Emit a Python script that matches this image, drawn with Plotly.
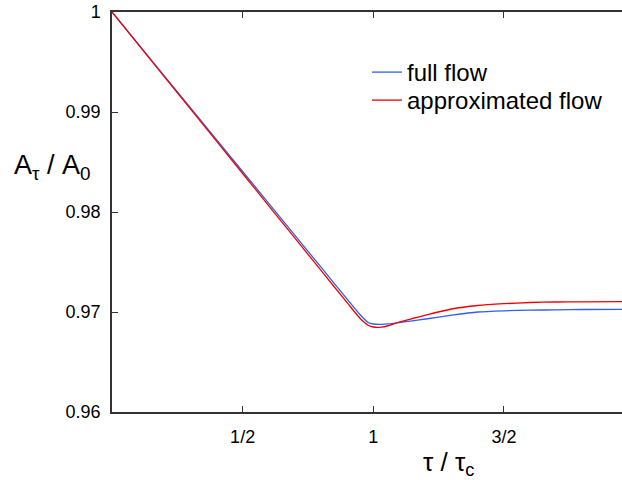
import plotly.graph_objects as go

# tau / tau_c
tau = [0, 0.2, 0.4, 0.6, 0.8, 0.9, 0.95, 0.98, 1.0, 1.03, 1.06, 1.1, 1.15, 1.2,
       1.3, 1.4, 1.5, 1.6, 1.7, 1.8, 1.96]
full_flow = [1.0, 0.99362, 0.98724, 0.98086, 0.97448, 0.97129, 0.96972, 0.96895,
             0.96880, 0.96877, 0.96882, 0.96895, 0.96912, 0.96930, 0.96968,
             0.97000, 0.97012, 0.97018, 0.97022, 0.97025, 0.97027]
approx_flow = [1.0, 0.99354, 0.98708, 0.98062, 0.97416, 0.97093, 0.96935, 0.96868,
               0.96850, 0.96848, 0.96865, 0.96900, 0.96935, 0.96968, 0.97030,
               0.97065, 0.97083, 0.97095, 0.97100, 0.97102, 0.97103]

x_tickvals = [0.5, 1, 1.5]
x_ticktext = ["1/2", "1", "3/2"]
y_tickvals = [0.96, 0.97, 0.98, 0.99, 1.0]
y_ticktext = ["0.96", "0.97", "0.98", "0.99", "1"]

FONT = "Liberation Sans, Arial, sans-serif"

L, T, B = 112, 12, 68
PLOT_W = 622 - L
X_MAX = 1.952

fig = go.Figure()
fig.add_trace(go.Scatter(x=tau, y=full_flow, mode="lines", name="full flow", legend="legend",
                         line=dict(color="rgb(45,95,240)", width=1.3, shape="spline", smoothing=0.6)))
fig.add_trace(go.Scatter(x=tau, y=approx_flow, mode="lines", name="approximated flow", legend="legend2",
                         line=dict(color="rgb(240,0,0)", width=1.3, shape="spline", smoothing=0.6)))

leg_common = dict(xanchor="left", yanchor="top", bgcolor="rgba(0,0,0,0)",
                  font=dict(size=24, family=FONT), itemwidth=30,
                  x=(367 - L) / PLOT_W)

fig.update_layout(
    width=622, height=480,
    margin=dict(l=L, r=0, t=T, b=B),
    plot_bgcolor="white", paper_bgcolor="white",
    font=dict(family=FONT, color="black"),
    showlegend=True,
    legend=dict(y=(412 - 50) / 400, **leg_common),
    legend2=dict(y=(412 - 78) / 400, **leg_common),
    xaxis=dict(range=[0, X_MAX], tickvals=x_tickvals, ticktext=x_ticktext,
               ticks="inside", ticklen=6, tickcolor="#333", tickwidth=1,
               showline=True, linecolor="#333", linewidth=1.5, mirror="ticks",
               showgrid=False, zeroline=False, tickfont=dict(size=18),
               ticklabelstandoff=8, ticklabeloverflow="allow"),
    yaxis=dict(range=[0.96, 1.0], tickvals=y_tickvals, ticktext=y_ticktext,
               ticks="inside", ticklen=6, tickcolor="#333", tickwidth=1,
               showline=True, linecolor="#333", linewidth=1.5, mirror=False,
               showgrid=False, zeroline=False, tickfont=dict(size=18),
               ticklabelstandoff=6, ticklabeloverflow="allow"),
    annotations=[
        dict(text="A<sub>τ</sub> / A<sub>0</sub>", xref="paper", yref="paper",
             x=(12 - L) / PLOT_W, y=(412 - 167) / 400, xanchor="left", yanchor="middle",
             showarrow=False, font=dict(size=27, family=FONT)),
        dict(text="τ / τ<sub>c</sub>", xref="paper", yref="paper",
             x=(448 - L) / PLOT_W, y=-(463 - 412) / 400, xanchor="center", yanchor="middle",
             showarrow=False, font=dict(size=26, family=FONT)),
    ],
)

fig.write_html("out.html",
               config={"displayModeBar": False},
               post_script="document.body.style.margin='0';document.body.style.overflow='hidden';")
